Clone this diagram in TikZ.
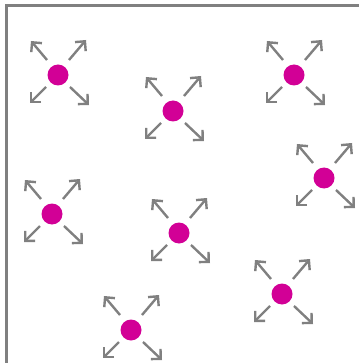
\documentclass[tikz,border=0pt]{standalone}
\usetikzlibrary{arrows.meta}
\definecolor{dotc}{RGB}{210,0,150}
\definecolor{linec}{RGB}{128,128,128}
\begin{document}
\begin{tikzpicture}[x=1pt,y=-1pt,
 dotnode/.style={circle,fill=dotc,minimum size=21pt,inner sep=0pt},
 arr/.style={draw=linec,line width=2.4pt,-{Straight Barb[length=7pt,width=14pt,line width=2.4pt]}},
 frame/.style={draw=linec,line width=3pt}]
\useasboundingbox (0,0) rectangle (358,363);
\coordinate (fa) at (6,370);
\coordinate (fb) at (6,6);
\coordinate (fc) at (365,6);
\draw[frame] (fa) -- (fb) -- (fc);
\foreach \n/\x/\y in {1/58/75, 2/173/111, 3/294/75, 4/324/178, 5/52/214, 6/179/233, 7/282/294, 8/131/330} {
  \node[dotnode] (d\n) at (\x,\y) {};
  \draw[arr] (d\n.center) ++(-11,-15) -- ++(-16,-19);
  \draw[arr] (d\n.center) ++(11,-15) -- ++(17,-20);
  \draw[arr] (d\n.center) ++(-12,12) -- ++(-16,16);
  \draw[arr] (d\n.center) ++(12,12) -- ++(19,18);
}
\end{tikzpicture}
\end{document}
